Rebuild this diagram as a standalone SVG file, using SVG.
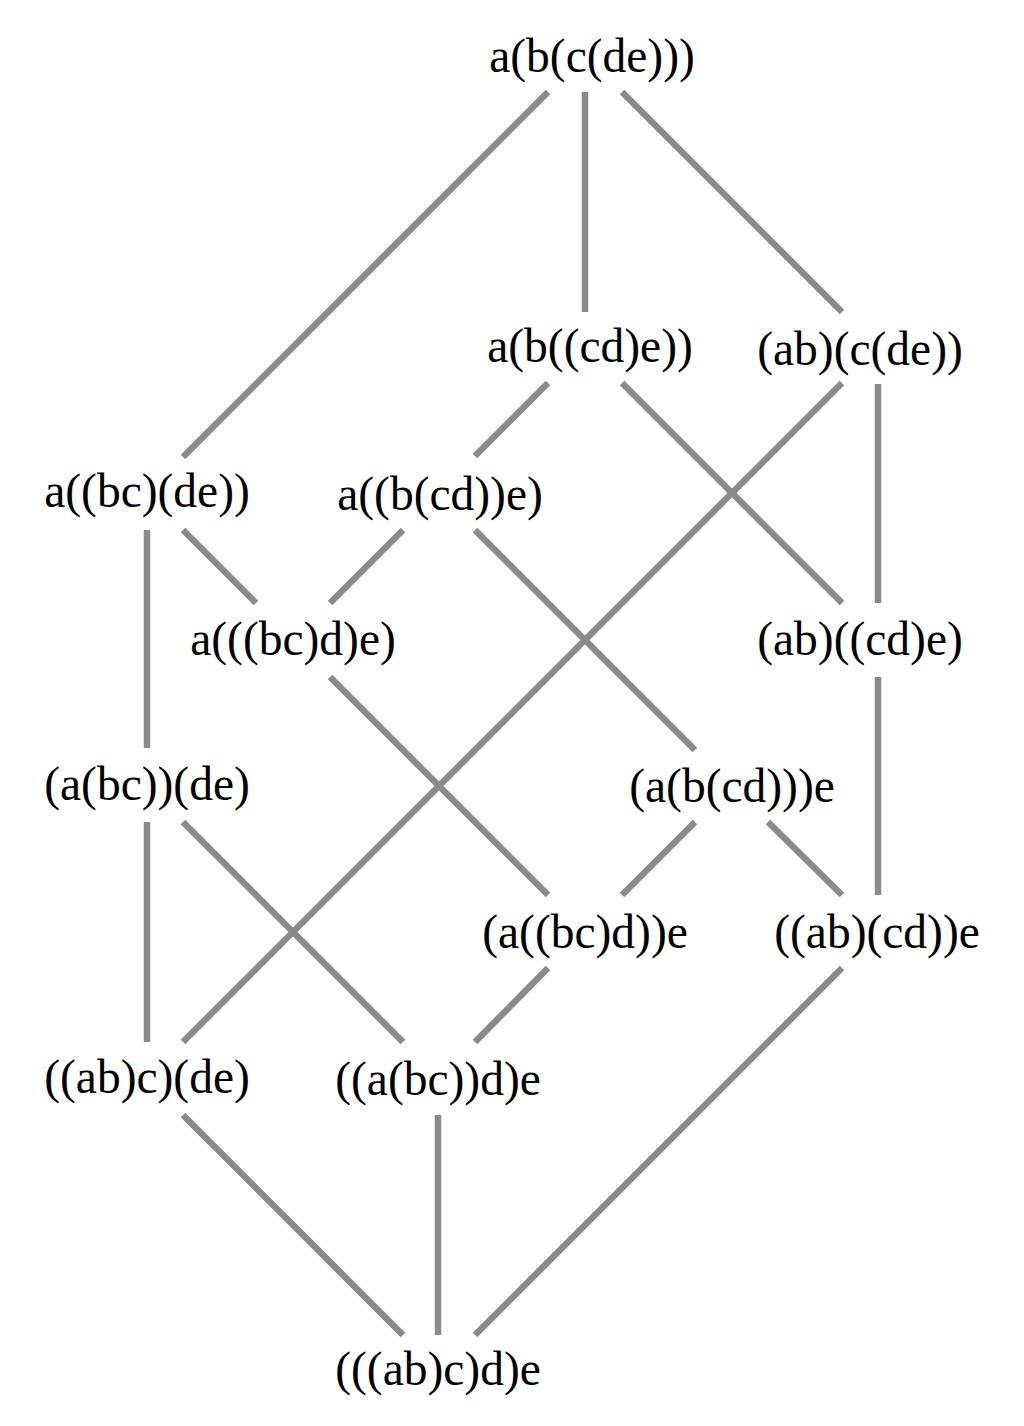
<svg xmlns="http://www.w3.org/2000/svg" width="1024" height="1426" viewBox="0 0 1024 1426">
<style>
text{font-family:"Liberation Serif","DejaVu Serif",serif;font-size:47.5px;fill:#000;text-anchor:middle}
line{stroke:#8a8a8a;stroke-width:6.5}
</style>
<rect width="1024" height="1426" fill="#fff"/>
<g id="connectors">
<line x1="548" y1="92" x2="183" y2="457"/>
<line x1="585" y1="92" x2="585" y2="312"/>
<line x1="622" y1="92" x2="842" y2="312"/>
<line x1="548" y1="383" x2="475" y2="456"/>
<line x1="622" y1="383" x2="842" y2="603"/>
<line x1="842" y1="383" x2="183" y2="1042"/>
<line x1="878" y1="384" x2="878" y2="603"/>
<line x1="147" y1="530" x2="147" y2="748"/>
<line x1="183" y1="530" x2="256" y2="603"/>
<line x1="403" y1="530" x2="330" y2="603"/>
<line x1="475" y1="530" x2="695" y2="750"/>
<line x1="330" y1="677" x2="548" y2="895"/>
<line x1="878" y1="677" x2="878" y2="895"/>
<line x1="147" y1="822" x2="147" y2="1042"/>
<line x1="183" y1="822" x2="403" y2="1042"/>
<line x1="695" y1="822" x2="622" y2="895"/>
<line x1="768" y1="822" x2="842" y2="895"/>
<line x1="548" y1="968" x2="475" y2="1042"/>
<line x1="842" y1="968" x2="475" y2="1335"/>
<line x1="183" y1="1115" x2="403" y2="1335"/>
<line x1="438" y1="1115" x2="438" y2="1335"/>
</g>
<g id="n1"><text x="592" y="72">a(b(c(de)))</text></g>
<g id="n2"><text x="590" y="362">a(b((cd)e))</text></g>
<g id="n3"><text x="860" y="365">(ab)(c(de))</text></g>
<g id="n4"><text x="147" y="507">a((bc)(de))</text></g>
<g id="n5"><text x="440" y="510">a((b(cd))e)</text></g>
<g id="n6"><text x="293" y="655">a(((bc)d)e)</text></g>
<g id="n7"><text x="860" y="655">(ab)((cd)e)</text></g>
<g id="n8"><text x="147" y="800">(a(bc))(de)</text></g>
<g id="n9"><text x="732" y="802">(a(b(cd)))e</text></g>
<g id="n10"><text x="585" y="948">(a((bc)d))e</text></g>
<g id="n11"><text x="877" y="948">((ab)(cd))e</text></g>
<g id="n12"><text x="147" y="1093">((ab)c)(de)</text></g>
<g id="n13"><text x="438" y="1095">((a(bc))d)e</text></g>
<g id="n14"><text x="438" y="1385">(((ab)c)d)e</text></g>
</svg>
